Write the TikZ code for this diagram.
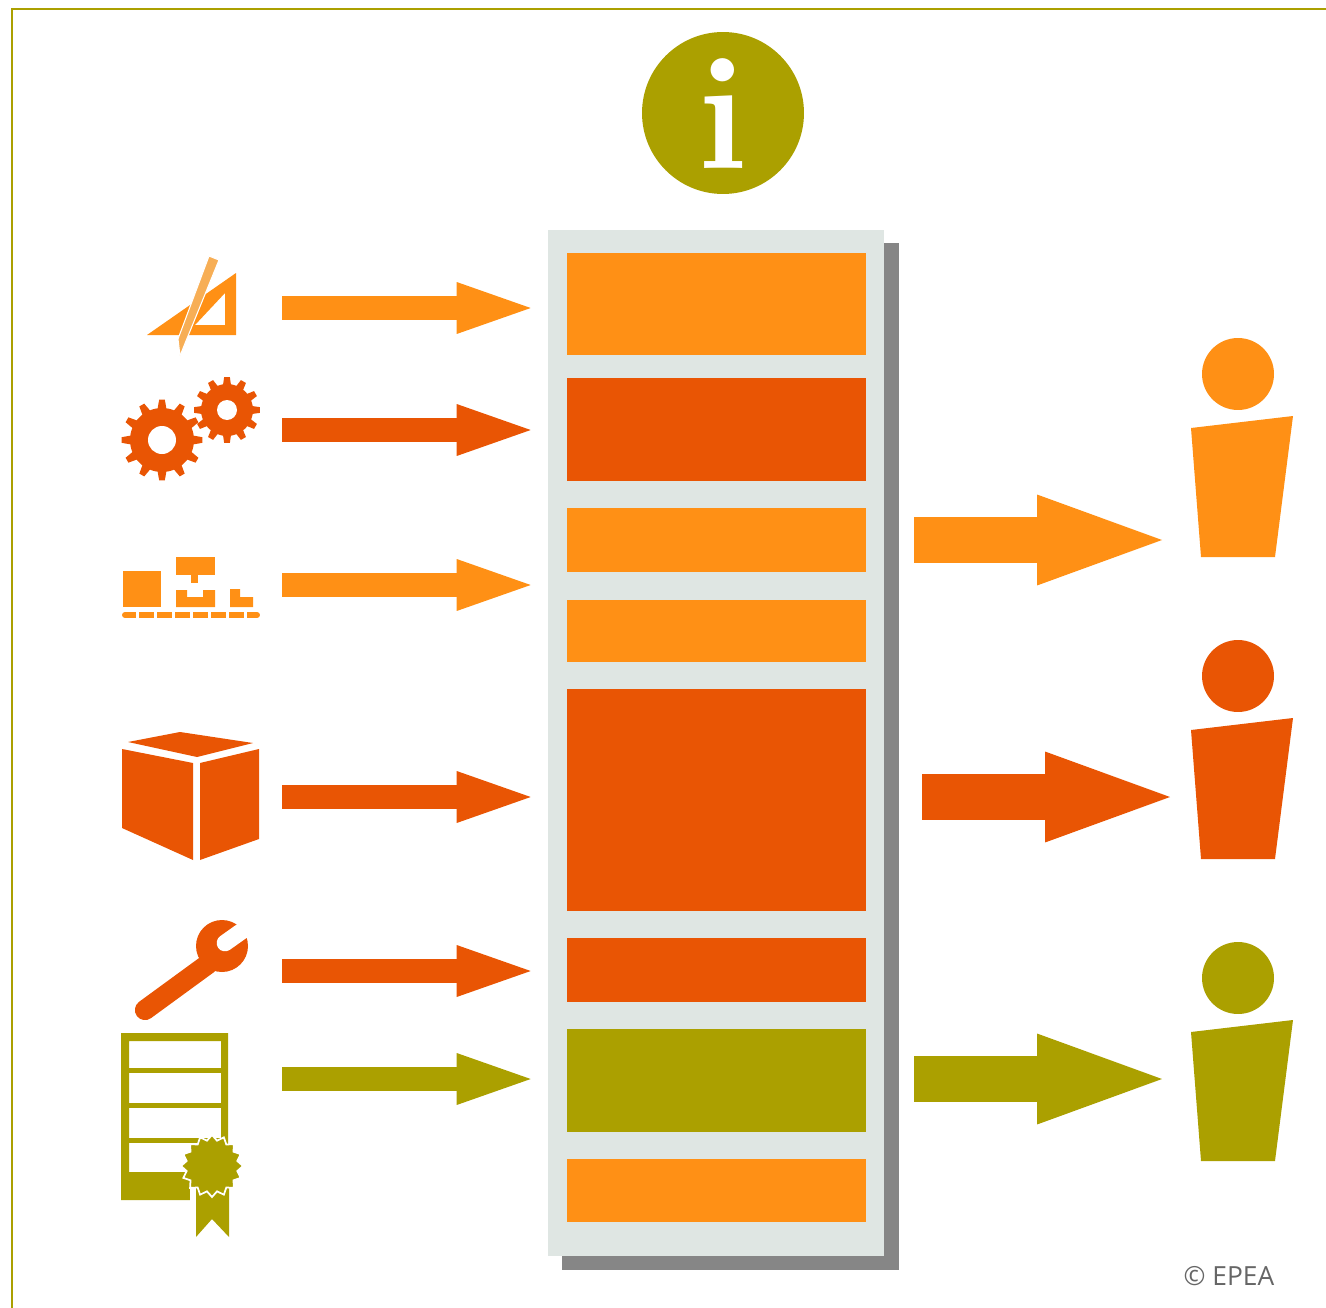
\documentclass[tikz,border=0pt]{standalone}
\usepackage{fontspec}
\usetikzlibrary{arrows.meta,shapes.geometric}
\newfontfamily\creditfont{Open Sans}
\definecolor{epeaOrange}{HTML}{FF9015}
\definecolor{epeaRust}{HTML}{E95504}
\definecolor{epeaOlive}{HTML}{ABA000}
\definecolor{panelGrey}{HTML}{DFE6E3}
\definecolor{shadowGrey}{HTML}{868686}
\definecolor{pencilTone}{HTML}{F7AE55}
\tikzset{
  slot/.style={inner sep=0pt,minimum width=5.98cm},
  inarrow/.style={line width=0.48cm,shorten >=0.72cm,-{Triangle[length=1.48cm,width=1.04cm,line width=0pt]}},
  outarrow/.style={line width=0.92cm,-{Triangle[length=2.5cm,width=1.82cm,line width=0pt]}},
}
\begin{document}
\begin{tikzpicture}[x=0.02cm,y=-0.02cm]
    \useasboundingbox (0,0) rectangle (1326,1308);

    % Parameters
    \def\slotX{716.5}

    % Frame
    \draw[epeaOlive,line width=1.2pt] (12,1308) -- (12,9) -- (1326,9);

    % Info sign
    \node[circle,fill=epeaOlive,inner sep=0pt,minimum size=3.24cm] (info) at (723,113) {};
    \node[text=white,inner sep=0pt,font=\fontsize{92}{92}\selectfont\bfseries] (infoMark) at (723,114) {i};

    % Panel with shadow
    \fill[shadowGrey] (562,243) rectangle (899,1270);
    \node[fill=panelGrey,inner sep=0pt,minimum width=6.72cm,minimum height=20.52cm] (panel) at (716,743) {};

    % Slots in the panel
    \node[slot,fill=epeaOrange,minimum height=2.04cm] (slotA) at (\slotX,304) {};
    \node[slot,fill=epeaRust,minimum height=2.06cm] (slotB) at (\slotX,429.5) {};
    \node[slot,fill=epeaOrange,minimum height=1.28cm] (slotC) at (\slotX,540) {};
    \node[slot,fill=epeaOrange,minimum height=1.24cm] (slotD) at (\slotX,631) {};
    \node[slot,fill=epeaRust,minimum height=4.44cm] (slotE) at (\slotX,800) {};
    \node[slot,fill=epeaRust,minimum height=1.28cm] (slotF) at (\slotX,970) {};
    \node[slot,fill=epeaOlive,minimum height=2.06cm] (slotG) at (\slotX,1080.5) {};
    \node[slot,fill=epeaOrange,minimum height=1.26cm] (slotH) at (\slotX,1190.5) {};

    % Arrows into the panel
    \coordinate (drawing) at (282,308);
    \coordinate (gears) at (282,430);
    \coordinate (factory) at (282,585);
    \coordinate (carton) at (282,797);
    \coordinate (wrench) at (282,971);
    \coordinate (paper) at (282,1079);
    \draw[inarrow,epeaOrange] (drawing) -- (drawing -| slotA.west);
    \draw[inarrow,epeaRust] (gears) -- (gears -| slotB.west);
    \draw[inarrow,epeaOrange] (factory) -- (factory -| slotD.west);
    \draw[inarrow,epeaRust] (carton) -- (carton -| slotE.west);
    \draw[inarrow,epeaRust] (wrench) -- (wrench -| slotF.west);
    \draw[inarrow,epeaOlive] (paper) -- (paper -| slotG.west);

    % Arrows out of the panel
    \coordinate (userA) at (1162,540);
    \coordinate (userB) at (1170,797);
    \coordinate (userC) at (1162,1079);
    \draw[outarrow,epeaOrange,shorten <=0.96cm] (slotC.east |- userA) -- (userA);
    \draw[outarrow,epeaRust,shorten <=1.12cm] (slotE.east |- userB) -- (userB);
    \draw[outarrow,epeaOlive,shorten <=0.96cm] (slotG.east |- userC) -- (userC);

    % People
    \foreach \who/\dy/\tone in {A/0/epeaOrange,B/302/epeaRust,C/604/epeaOlive}{
      \node[circle,fill=\tone,inner sep=0pt,minimum size=1.44cm] (head\who) at (1238,374+\dy) {};
      \fill[\tone] (1191,428+\dy) -- (1293,416+\dy) -- (1275,557+\dy) -- (1201,557+\dy) -- cycle;
    }

    % Set square and pencil
    \fill[epeaOrange,even odd rule] (147,335) -- (236,273) -- (236,335) -- cycle
      (195,325) -- (225,325) -- (225,293) -- cycle;
    \filldraw[pencilTone,draw=white,line width=0.6pt] (209,256) -- (219,260) -- (186,341) -- (180,356) -- (178,339) -- cycle;

    % Gears
    \fill[epeaRust] (162,440) circle (32);
    \fill[epeaRust] (227,410) circle (26);
    \foreach \a in {0,30,...,330}{
      \fill[epeaRust,shift={(162,440)}] (\a-9:30) -- (\a-4:40.5) -- (\a+4:40.5) -- (\a+9:30) -- cycle;
      \fill[epeaRust,shift={(227,410)}] (\a-10:24) -- (\a-5:33) -- (\a+5:33) -- (\a+10:24) -- cycle;
    }
    \fill[white] (162,440) circle (14);
    \fill[white] (227,410) circle (10);

    % Factory line
    \fill[epeaOrange] (123,571) rectangle (161,607);
    \fill[epeaOrange] (176,557) rectangle (215,575);
    \fill[epeaOrange] (191,575) rectangle (198,583);
    \fill[epeaOrange] (176,590) -- (187,590) -- (187,597) -- (203,597) -- (203,590) -- (215,590) -- (215,607) -- (176,607) -- cycle;
    \fill[epeaOrange] (230,589) -- (240,589) -- (240,597) -- (253,597) -- (253,607) -- (230,607) -- cycle;
    \draw[epeaOrange,line width=3.4pt,line cap=round] (125,615) -- (257,615);
    \foreach \x in {136,154,172,190,208,226,244}{
      \fill[white] (\x,611) rectangle (\x+2.5,619);
    }

    % Carton
    \fill[epeaRust] (128,742) -- (180,732) -- (253,743) -- (197,757) -- cycle;
    \fill[epeaRust] (122,749) -- (193,763) -- (193,860) -- (122,828) -- cycle;
    \fill[epeaRust] (200,763) -- (259,749) -- (259,839) -- (200,860) -- cycle;

    % Wrench
    \draw[epeaRust,line width=11.5pt,line cap=round] (145,1010) -- (208,964);
    \fill[epeaRust] (222,946) circle (26);
    \draw[white,line width=9.5pt,line cap=round] (225,943) -- (256,921);

    % Certificate
    \fill[epeaOlive,even odd rule] (121,1033) rectangle (228,1200)
      (129,1041) rectangle (221,1172);
    \foreach \y in {1070,1105,1140}{
      \fill[epeaOlive] (129,\y-2.5) rectangle (221,\y+2.5);
    }
    \fill[white] (190,1200.5) rectangle (229,1150);
    \fill[epeaOlive] (196,1180) -- (229,1180) -- (229,1237) -- (212,1219) -- (196,1237) -- cycle;
    \node[star,star points=16,star point ratio=1.2,fill=epeaOlive,draw=white,line width=1pt,inner sep=0pt,minimum size=1.24cm] (seal) at (212,1166) {};

    % Credit
    \node[text=black!60,inner sep=0pt,font=\creditfont\fontsize{15}{15}\selectfont] (credit) at (1229,1276) {© EPEA};
\end{tikzpicture}
\end{document}
